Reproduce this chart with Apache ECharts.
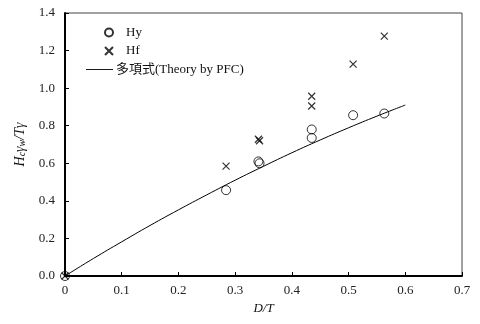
<!DOCTYPE html>
<html>
<head>
<meta charset="utf-8">
<script src="https://cdn.jsdelivr.net/npm/echarts@6/dist/echarts.min.js"></script>
<style>
  html, body { margin: 0; padding: 0; background: #fff; }
  #chart { width: 480px; height: 324px; }
</style>
</head>
<body>
<div id="chart"></div>
<script>
  // measured points (D/T, Hc*gw/T*g)
  let hyX = [0, 0.284, 0.341, 0.343, 0.435, 0.435, 0.508, 0.563];
  let hyY = [0, 0.457, 0.61, 0.60, 0.78, 0.735, 0.856, 0.865];
  let hfX = [0, 0.284, 0.341, 0.343, 0.435, 0.435, 0.508, 0.563];
  let hfY = [0, 0.585, 0.728, 0.72, 0.957, 0.905, 1.128, 1.277];
  // theory curve
  let thX = [0, 0.05, 0.1, 0.15, 0.2, 0.25, 0.3, 0.35, 0.4, 0.45, 0.5, 0.55, 0.6];
  let thY = [0, 0.093, 0.182, 0.269, 0.352, 0.432, 0.51, 0.584, 0.656, 0.724, 0.789, 0.851, 0.91];

  let serif = "'Liberation Serif', 'Noto Sans CJK JP', serif";
  let crossPath = 'path://M0,0L10,10M10,0L0,10';

  function pairs(xs, ys) {
    return xs.map(function (x, i) { return [x, ys[i]]; });
  }

  let chart = echarts.init(document.getElementById('chart'));
  let option = {
    animation: false,
    backgroundColor: '#fff',
    grid: {
      left: 65, right: 18, top: 13, bottom: 48,
      show: true, borderColor: '#444', borderWidth: 1
    },
    legend: [{
      orient: 'vertical',
      left: 104, top: 26, padding: 0,
      itemWidth: 8, itemHeight: 8, itemGap: 5.5,
      textStyle: { fontFamily: serif, fontSize: 13, color: '#111', padding: [0, 0, 0, 8] },
      data: ['Hy', 'Hf']
    }, {
      left: 86, top: 63, padding: 0,
      itemWidth: 27, itemHeight: 10,
      textStyle: { fontFamily: serif, fontSize: 13, color: '#111', padding: [0, 0, 0, -2] },
      data: [{ name: '多項式(Theory by PFC)', icon: 'path://M0,0L30,0L30,1L0,1Z' }]
    }],
    xAxis: {
      type: 'value', min: 0, max: 0.7, interval: 0.1,
      name: 'D/T', nameLocation: 'middle', nameGap: 21,
      nameTextStyle: { fontFamily: serif, fontStyle: 'italic', fontSize: 13, color: '#111' },
      axisLine: { show: true, lineStyle: { color: '#000', width: 2 } },
      axisTick: { show: true, inside: true, length: 4, lineStyle: { color: '#000' } },
      splitLine: { show: false },
      axisLabel: {
        fontFamily: serif, fontSize: 13, color: '#222', margin: 8,
        formatter: function (v) { return v === 0 ? '0' : v.toFixed(1); }
      }
    },
    yAxis: {
      type: 'value', min: 0, max: 1.4, interval: 0.2,
      name: '{i|H}{s|c}{i|γ}{s|w}{i|/Tγ}', nameLocation: 'middle', nameGap: 38,
      nameTextStyle: {
        fontFamily: serif, fontStyle: 'italic', fontSize: 14, color: '#111',
        rich: {
          i: { fontFamily: serif, fontStyle: 'italic', fontSize: 14, color: '#111' },
          s: { fontFamily: serif, fontStyle: 'italic', fontSize: 10, color: '#111', verticalAlign: 'bottom', padding: [4, 0, 0, 0] }
        }
      },
      axisLine: { show: true, lineStyle: { color: '#000', width: 2 } },
      axisTick: { show: true, inside: true, length: 4, lineStyle: { color: '#000' } },
      splitLine: { show: false },
      axisLabel: {
        fontFamily: serif, fontSize: 13, color: '#222', margin: 10,
        formatter: function (v) { return v.toFixed(1); }
      }
    },
    series: [{
      name: 'Hy',
      type: 'scatter',
      symbol: 'circle',
      symbolSize: 9,
      itemStyle: { color: 'rgba(0,0,0,0)', borderColor: '#000', borderWidth: 1 },
      data: pairs(hyX, hyY),
      z: 3
    }, {
      name: 'Hf',
      type: 'scatter',
      symbol: crossPath,
      symbolSize: 7,
      itemStyle: { color: 'rgba(0,0,0,0)', borderColor: '#000', borderWidth: 1.2 },
      data: pairs(hfX, hfY),
      z: 3
    }, {
      name: '多項式(Theory by PFC)',
      type: 'line',
      smooth: true,
      showSymbol: false,
      lineStyle: { color: '#000', width: 1 },
      itemStyle: { color: '#000' },
      data: pairs(thX, thY),
      z: 2
    }]
  };
  chart.setOption(option, true);
</script>
</body>
</html>
